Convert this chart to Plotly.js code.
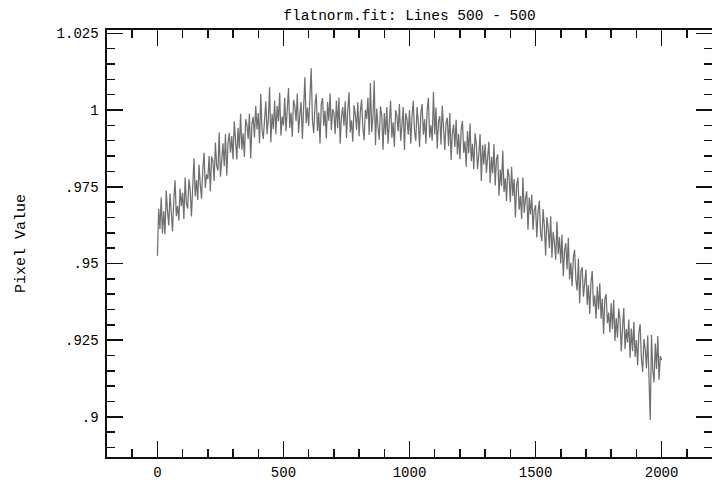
<!DOCTYPE html>
<html>
<head>
<meta charset="utf-8">
<script src="https://cdn.plot.ly/plotly-3.0.1.min.js"></script>
<style>
html,body{margin:0;padding:0;background:#fff;}
#chart{width:712px;height:483px;}
</style>
</head>
<body>
<div id="chart"></div>
<script>
// Column of the first sample and spacing between read samples
const columnStart = 0;
const columnStep = 5;

// Pixel values, one every 5 columns (0..2000)
const pixelValues = [
.9525,.9678,.9612,.9715,.9598,.9671,.9595,.9738,.9671,.9624,.9728,.9651,.9604,.9707,.9771,.9654,.9687,.9640,.9744,.9687,
.9730,.9645,.9780,.9694,.9679,.9774,.9739,.9653,.9778,.9843,.9718,.9772,.9707,.9822,.9757,.9711,.9806,.9861,.9746,.9790,
.9775,.9850,.9735,.9849,.9834,.9769,.9894,.9818,.9803,.9928,.9783,.9857,.9892,.9817,.9922,.9786,.9891,.9926,.9861,.9915,
.9840,.9963,.9896,.9839,.9942,.9875,.9988,.9871,.9924,.9847,.9970,.9953,.9906,.9989,.9842,.9955,.9978,.9911,1.0014,.9937,
.9990,.9892,1.0053,.9935,.9906,.9988,1.0029,.9921,.9972,1.0074,.9895,.9987,.9938,1.0030,.9921,1.0013,.9964,1.0056,.9917,.9979,
.9950,1.0040,.9931,1.0001,1.0072,.9942,.9992,.9913,1.0033,1.0014,.9964,1.0054,.9925,.9985,1.0026,.9906,1.0046,1.0107,.9957,1.0008,
.9948,1.0037,1.0136,.9966,.9925,1.0014,1.0053,.9932,.9992,.9891,1.0020,1.0039,.9948,.9998,.9907,1.0026,.9965,1.0054,.9934,1.0003,
.9992,.9922,1.0031,.9941,1.0041,.9890,.9980,1.0010,.9949,1.0029,.9909,.9998,1.0058,.9927,.9967,.9897,1.0016,.9986,.9936,1.0025,
.9915,.9994,1.0034,.9943,.9902,1.0001,.9971,1.0040,.9919,1.0088,.9928,.9977,1.0096,.9885,1.0005,.9944,.9903,1.0012,.9982,.9871,
.9990,.9920,1.0010,.9890,.9970,1.0030,.9910,.9960,.9880,1.0000,.9980,.9930,1.0020,.9900,.9950,1.0010,.9870,.9990,.9970,.9920,
1.0000,.9890,.9980,1.0030,.9930,.9900,1.0010,.9960,.9880,.9990,1.0020,.9920,.9970,.9890,1.0000,1.0040,.9910,.9950,.9900,1.0060,
.9920,1.0008,.9875,.9963,.9980,.9888,1.0015,.9923,.9870,.9958,.9975,.9883,.9990,.9838,.9925,.9953,.9880,.9968,.9855,.9923,
.9840,.9937,.9964,.9861,.9898,.9815,.9932,.9859,.9956,.9833,.9890,.9807,.9924,.9891,.9808,.9855,.9922,.9769,.9886,.9823,
.9890,.9796,.9841,.9897,.9762,.9848,.9793,.9889,.9754,.9840,.9855,.9721,.9806,.9752,.9867,.9733,.9778,.9704,.9809,.9785,
.9700,.9815,.9720,.9775,.9650,.9755,.9780,.9675,.9720,.9645,.9780,.9665,.9710,.9735,.9610,.9715,.9660,.9725,.9610,.9675,
.9690,.9585,.9669,.9704,.9598,.9573,.9677,.9622,.9526,.9651,.9615,.9550,.9654,.9519,.9603,.9568,.9512,.9637,.9531,.9586,
.9500,.9594,.9458,.9542,.9566,.9480,.9584,.9448,.9502,.9426,.9520,.9544,.9448,.9412,.9516,.9370,.9474,.9488,.9392,.9446,
.9480,.9365,.9430,.9335,.9440,.9475,.9360,.9395,.9320,.9425,.9350,.9435,.9320,.9385,.9270,.9385,.9400,.9305,.9340,.9275,
.9370,.9286,.9381,.9247,.9322,.9258,.9353,.9319,.9214,.9290,.9355,.9221,.9286,.9242,.9317,.9193,.9288,.9214,.9309,.9195,
.9250,.9167,.9275,.9302,.9189,.9146,.9254,.9221,.9158,.9265,.9113,.8990,.9267,.9154,.9112,.9239,.9156,.9263,.9121,.9198,
.9185
];

const columns = pixelValues.map((_, i) => columnStart + i * columnStep);

const xTickVals = [0, 500, 1000, 1500, 2000];
const xTickText = ['0', '500', '1000', '1500', '2000'];
const yTickVals = [0.9, 0.925, 0.95, 0.975, 1, 1.025];
const yTickText = ['.9', '.925', '.95', '.975', '1', '1.025'];

const font = "'Liberation Mono', 'DejaVu Sans Mono', monospace";

const trace = {
  x: columns,
  y: pixelValues,
  type: 'scatter',
  mode: 'lines',
  line: {color: '#707070', width: 1.25},
  hoverinfo: 'skip'
};

const axisCommon = {
  showgrid: false,
  zeroline: false,
  showline: true,
  linecolor: '#111',
  linewidth: 1.6,
  mirror: 'ticks',
  ticks: 'inside',
  ticklen: 16,
  tickwidth: 1.5,
  tickcolor: '#111',
  tickfont: {family: font, size: 14, color: '#000'}
};

const layout = {
  width: 712,
  height: 483,
  margin: {l: 107, r: 0, t: 30, b: 26, pad: 0},
  paper_bgcolor: '#fff',
  plot_bgcolor: '#fff',
  showlegend: false,
  title: {
    text: 'flatnorm.fit: Lines 500 - 500',
    font: {family: font, size: 14.5, color: '#000'},
    x: 0.5, xref: 'paper', xanchor: 'center',
    y: 0.970, yref: 'container', yanchor: 'middle'
  },
  xaxis: Object.assign({}, axisCommon, {
    range: [-200, 2200],
    tickmode: 'array',
    tickvals: xTickVals,
    ticktext: xTickText,
    ticklabelstandoff: 2,
    minor: {dtick: 100, tick0: 0, ticks: 'inside', ticklen: 8, tickwidth: 1.5, tickcolor: '#111', showgrid: false}
  }),
  yaxis: Object.assign({}, axisCommon, {
    range: [0.8869, 1.0261],
    tickmode: 'array',
    tickvals: yTickVals,
    ticktext: yTickText,
    ticklabelstandoff: 4,
    minor: {dtick: 0.005, tick0: 0.9, ticks: 'inside', ticklen: 8, tickwidth: 1.5, tickcolor: '#111', showgrid: false},
    title: {text: 'Pixel Value', font: {family: font, size: 15, color: '#000'}, standoff: 27}
  })
};

Plotly.newPlot('chart', [trace], layout, {staticPlot: true, displayModeBar: false});
</script>
</body>
</html>
